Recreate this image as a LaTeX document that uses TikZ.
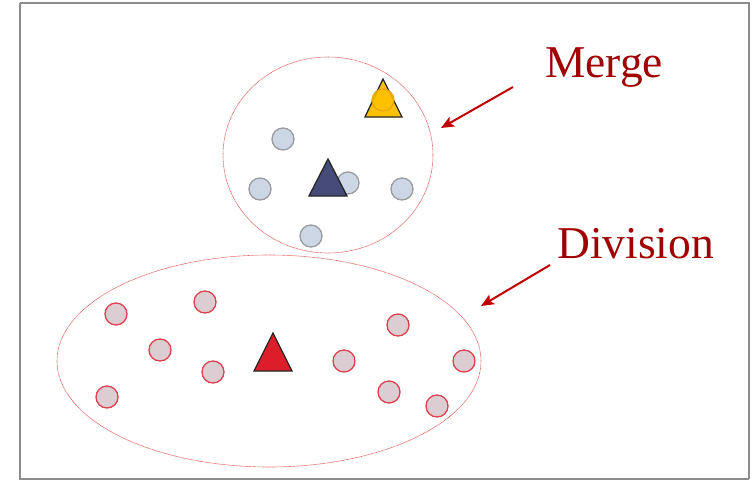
\documentclass[tikz,border=0pt]{standalone}
\usepackage{fontspec}
\setmainfont{Liberation Serif}
\usetikzlibrary{arrows.meta,shapes.geometric}
\definecolor{frame}{HTML}{8C8C8C}
\definecolor{lbl}{HTML}{A00000}
\definecolor{arr}{HTML}{C00000}
\definecolor{blufill}{HTML}{CCD6E4}
\definecolor{blustroke}{HTML}{9A9CA0}
\definecolor{pinkfill}{HTML}{DCCDD2}
\definecolor{pinkstroke}{HTML}{E0404E}
\definecolor{navy}{HTML}{464A78}
\definecolor{gold}{HTML}{FFC000}
\definecolor{goldstroke}{HTML}{E8A010}
\definecolor{redtri}{HTML}{DC1E2A}
\definecolor{dotred}{HTML}{E05A5A}
\tikzset{
  bluedot/.style={circle,draw=blustroke,fill=blufill,line width=1.3pt,minimum size=22pt,inner sep=0pt},
  pinkdot/.style={circle,draw=pinkstroke,fill=pinkfill,line width=1.3pt,minimum size=22pt,inner sep=0pt},
  golddot/.style={circle,draw=goldstroke,fill=gold,fill opacity=0.85,draw opacity=0.9,line width=1.2pt,minimum size=22pt,inner sep=0pt},
  clusterline/.style={draw=dotred,line width=0.6pt,dash pattern=on 0.8pt off 0.5pt},
  tri/.style={draw=black!85,line width=1.3pt,line join=miter},
  label/.style={text=lbl,font=\fontsize{45.5}{50}\selectfont,inner sep=0pt,anchor=base west},
  pointer/.style={draw=arr,line width=2pt,-{Stealth[length=13pt,width=11pt,inset=3pt]}}
}
\begin{document}
\begin{tikzpicture}[x=1pt,y=-1pt]
\useasboundingbox (0,0) rectangle (756,480);
\fill[white] (0,0) rectangle (756,480);
\draw[frame,line width=2pt] (20,3) -- (749,3) -- (749,479);
\draw[frame,line width=2pt] (20,3) -- (20,479) -- (749,479);

% cluster outlines
\node[clusterline,ellipse,minimum width=210pt,minimum height=196pt,inner sep=0pt] (upper) at (328,155) {};
\node[clusterline,ellipse,minimum width=424pt,minimum height=212pt,inner sep=0pt] (lower) at (269,361) {};

% upper cluster points
\node[bluedot] (u1) at (283,139) {};
\node[bluedot] (u2) at (260,189) {};
\node[bluedot] (u3) at (348,183) {};
\node[bluedot] (u4) at (402,189) {};
\node[bluedot] (u5) at (311,236) {};
\draw[tri,fill=navy] (328,159) -- (347,196) -- (309,196) -- cycle;
\draw[tri,fill=gold] (383,79) -- (402,117) -- (365,117) -- cycle;
\node[golddot] (g1) at (383,100) {};

% lower cluster points
\node[pinkdot] (l1) at (116,314) {};
\node[pinkdot] (l2) at (205,302) {};
\node[pinkdot] (l3) at (160,350) {};
\node[pinkdot] (l4) at (213,372) {};
\node[pinkdot] (l5) at (107,397) {};
\node[pinkdot] (l6) at (344,361) {};
\node[pinkdot] (l7) at (398,325) {};
\node[pinkdot] (l8) at (464,361) {};
\node[pinkdot] (l9) at (389,392) {};
\node[pinkdot] (l10) at (437,406) {};
\draw[tri,fill=redtri] (273,333) -- (292,371) -- (254,371) -- cycle;

% labels and arrows
\node[label] (merge) at (545,77) {Merge};
\node[label] (division) at (557,258) {Division};
\coordinate (mstart) at (513,87);
\coordinate (mend) at (441,128);
\coordinate (dstart) at (550,265);
\coordinate (dend) at (481,306);
\draw[pointer] (mstart) -- (mend);
\draw[pointer] (dstart) -- (dend);
\end{tikzpicture}
\end{document}
